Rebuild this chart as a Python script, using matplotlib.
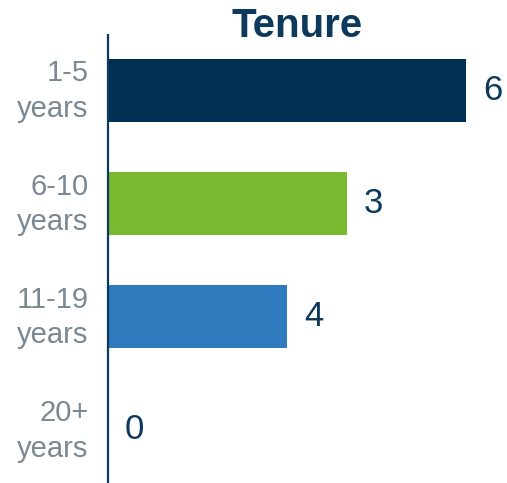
import matplotlib.pyplot as plt
import matplotlib.transforms as mtransforms

categories = ["1-5\nyears", "6-10\nyears", "11-19\nyears", "20+\nyears"]
bar_lengths = [6, 4, 3, 0]          # drawn bar lengths
value_labels = ["6", "3", "4", "0"]  # numbers printed next to the bars
colors = ["#003152", "#7aba30", "#2f7bbd", "#2f7bbd"]

plt.rcParams['font.family'] = ['Liberation Sans', 'DejaVu Sans']

fig = plt.figure(figsize=(5.07, 4.83), dpi=100)
ax = fig.add_axes([108 / 507, 0, 399 / 507, 1 - 35 / 483])

y = range(len(categories))
bars = ax.barh(y, bar_lengths, height=0.56, color=colors)

for bar, txt in zip(bars, value_labels):
    ax.annotate(txt, (bar.get_width(), bar.get_y() + bar.get_height() / 2),
                xytext=(12, 0), textcoords='offset points',
                ha='left', va='center', fontsize=25, color='#0d3a5c')

ax.set_xlim(0, 6.68)
ax.set_ylim(3.47, -0.49)
ax.set_yticks(list(y))
ax.set_yticklabels(categories, fontsize=21, color='#7a8893', ha='right',
                   linespacing=1.35)
ax.tick_params(axis='y', length=0, pad=14)
ax.set_xticks([])

# nudge the category labels up a little
shift = mtransforms.ScaledTranslation(0, 6 / 100, fig.dpi_scale_trans)
for lbl in ax.get_yticklabels():
    lbl.set_transform(lbl.get_transform() + shift)

for side in ['top', 'right', 'bottom']:
    ax.spines[side].set_visible(False)
ax.spines['left'].set_color('#0d3a5c')
ax.spines['left'].set_linewidth(1.6)

fig.text(297 / 507, 1 - 37 / 483, "Tenure", ha='center', va='baseline',
         fontsize=29, fontweight='bold', color='#0d3a5c')

fig.savefig("out.png", dpi=100)
